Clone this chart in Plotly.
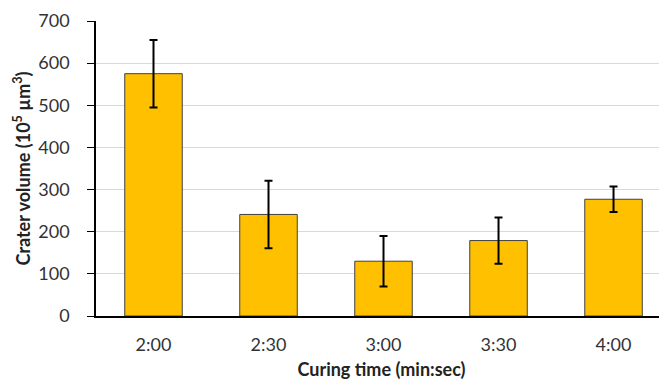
import plotly.graph_objects as go

categories = ["2:00", "2:30", "3:00", "3:30", "4:00"]
volumes = [575, 241, 130, 179, 277]
errors = [80, 80, 60, 55, 30]
y_ticks = [0, 100, 200, 300, 400, 500, 600, 700]

fig = go.Figure(go.Bar(
    x=categories, y=volumes,
    marker=dict(color="#FFC000", line=dict(color="#404040", width=1)),
    error_y=dict(type="data", array=errors, visible=True, color="black", thickness=2, width=4),
))

fig.update_layout(
    width=659, height=372,
    margin=dict(l=88, r=0, t=13, b=64),
    paper_bgcolor="white", plot_bgcolor="white",
    bargap=0.5,
    showlegend=False,
    font=dict(family="Lato, Open Sans, sans-serif", size=18, color="#404040"),
)
fig.update_xaxes(
    range=[-0.5, 4.465], automargin=False,
    showline=True, linecolor="black", linewidth=1.5,
    ticks="", showgrid=False,
    tickfont=dict(size=18, color="#333333"),
    ticklabelstandoff=12,
    title=dict(text="Curing time (min:sec)", font=dict(size=18, color="#222222", family="Lato, sans-serif", weight="bold"), standoff=13),
)
fig.update_yaxes(
    range=[0, 700], tickvals=y_ticks, automargin=False,
    showline=True, linecolor="black", linewidth=1.5,
    ticks="outside", ticklen=7, tickcolor="black",
    showgrid=True, gridcolor="#d9d9d9", gridwidth=1,
    zeroline=False,
    tickfont=dict(size=18, color="#333333"),
    ticklabelstandoff=14,
    title=dict(text="Crater volume (10<sup>5</sup> µm<sup>3</sup>)", font=dict(size=18, color="#222222", family="Lato, sans-serif", weight="bold"), standoff=3),
)

fig.write_html("out.html")
